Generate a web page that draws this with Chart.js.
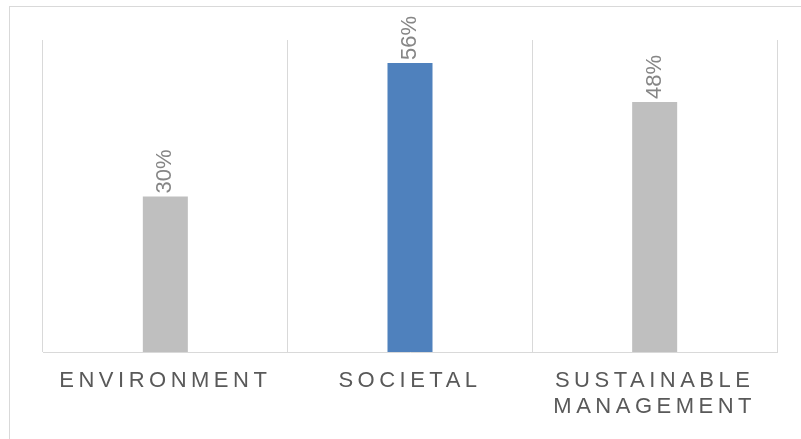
<!DOCTYPE html>
<html>
<head>
<meta charset="utf-8">
<script src="https://cdn.jsdelivr.net/npm/chart.js@4/dist/chart.umd.min.js"></script>
<style>
  html, body { margin: 0; padding: 0; background: #ffffff; overflow: hidden; }
  #wrap { width: 801px; height: 439px; position: relative; }
</style>
</head>
<body>
<div id="wrap"><canvas id="c" width="801" height="439"></canvas></div>
<script>
const categories = [['ENVIRONMENT'], ['SOCIETAL'], ['SUSTAINABLE', 'MANAGEMENT']];
const values = [29.9, 55.6, 48.1];
const barColors = ['#bfbfbf', '#4f81bd', '#bfbfbf'];
const yMin = 0;
const yMax = 60;

const FONT = '"Liberation Sans", Arial, sans-serif';
const SPACING = '4.5px';

const framePlugin = {
  id: 'frame',
  beforeDraw(chart) {
    const ctx = chart.ctx;
    ctx.save();
    ctx.strokeStyle = '#d9d9d9';
    ctx.lineWidth = 1;
    ctx.strokeRect(9.5, 6.5, 1000, 1000);
    ctx.restore();
    ctx.letterSpacing = SPACING;
  },
  beforeLayout(chart) {
    chart.ctx.letterSpacing = SPACING;
  },
  afterDatasetsDraw(chart) {
    const ctx = chart.ctx;
    ctx.save();
    ctx.letterSpacing = '0px';
    ctx.font = '22px ' + FONT;
    ctx.fillStyle = '#868686';
    ctx.textAlign = 'left';
    ctx.textBaseline = 'middle';
    const meta = chart.getDatasetMeta(0);
    meta.data.forEach((bar, i) => {
      const v = chart.data.datasets[0].data[i];
      ctx.save();
      ctx.translate(bar.x, bar.y - 3);
      ctx.rotate(-Math.PI / 2);
      ctx.fillText(Math.round(v) + '%', 0, 0);
      ctx.restore();
    });
    ctx.restore();
  }
};

new Chart(document.getElementById('c'), {
  type: 'bar',
  data: {
    labels: categories,
    datasets: [{
      data: values,
      backgroundColor: barColors,
      borderWidth: 0,
      barPercentage: 0.184,
      categoryPercentage: 1
    }]
  },
  options: {
    responsive: false,
    animation: false,
    devicePixelRatio: 1,
    layout: { padding: { left: 43, right: 24, top: 40, bottom: 0 } },
    plugins: { legend: { display: false }, tooltip: { enabled: false } },
    scales: {
      x: {
        offset: true,
        grid: { display: true, offset: true, drawTicks: false, color: '#d9d9d9', lineWidth: 1 },
        border: { display: true, color: '#d9d9d9', width: 1 },
        ticks: {
          color: '#595959',
          font: { family: FONT, size: 22, lineHeight: 1.18 },
          padding: 16,
          maxRotation: 0,
          minRotation: 0,
          autoSkip: false
        },
        afterFit(scale) { scale.height = 87; }
      },
      y: {
        display: false,
        min: yMin,
        max: yMax
      }
    }
  },
  plugins: [framePlugin]
});
</script>
</body>
</html>
